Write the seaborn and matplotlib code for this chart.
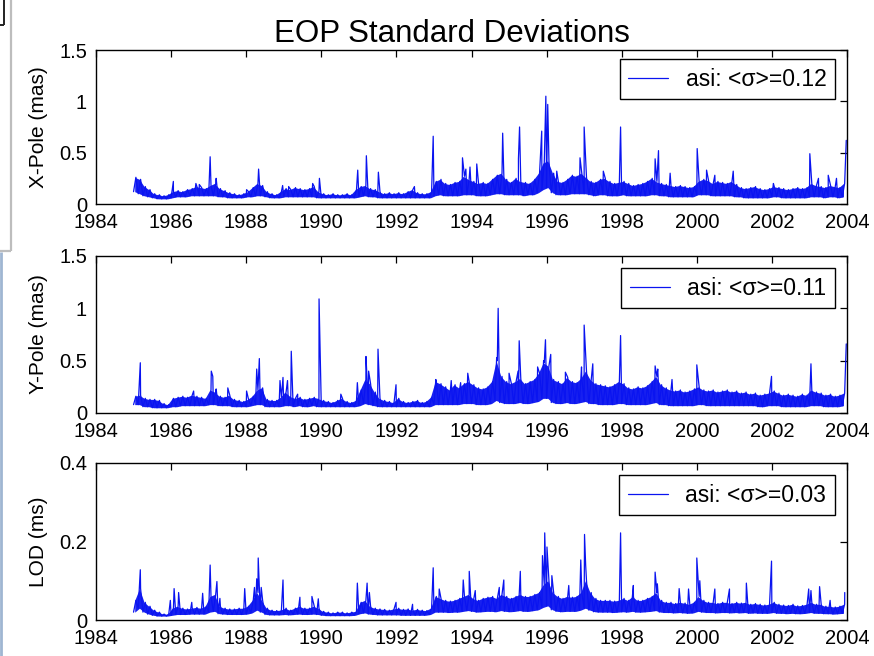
import numpy as np
import pandas as pd
import matplotlib
matplotlib.use("Agg")
import matplotlib.pyplot as plt
import seaborn as sns
from matplotlib.lines import Line2D

# ---------------------------------------------------------------------------
# Formal standard deviations of the Earth Orientation Parameters (asi solution)
# Band values are given on a 1/8-year grid starting 1985.0 (8 per row = 1 year):
#   *_lo : lower edge of the daily scatter, *_hi : upper edge of the scatter.
# Isolated outliers are listed separately as (epoch, sigma).
# ---------------------------------------------------------------------------
YEAR0 = 1985.0
STEP = 0.125

xpole_hi = [
    0.26, 0.24, 0.17, 0.14, 0.10, 0.09, 0.08, 0.09,   # 1985
    0.12, 0.13, 0.12, 0.14, 0.15, 0.17, 0.16, 0.15,   # 1986
    0.18, 0.20, 0.15, 0.13, 0.11, 0.10, 0.09, 0.10,   # 1987
    0.12, 0.16, 0.20, 0.18, 0.12, 0.10, 0.09, 0.12,   # 1988
    0.15, 0.14, 0.16, 0.15, 0.14, 0.15, 0.17, 0.12,   # 1989
    0.10, 0.09, 0.10, 0.09, 0.09, 0.10, 0.09, 0.14,   # 1990
    0.17, 0.18, 0.15, 0.14, 0.12, 0.10, 0.11, 0.10,   # 1991
    0.11, 0.10, 0.12, 0.14, 0.11, 0.10, 0.10, 0.12,   # 1992
    0.22, 0.24, 0.20, 0.19, 0.21, 0.22, 0.27, 0.24,   # 1993
    0.22, 0.20, 0.21, 0.20, 0.24, 0.28, 0.30, 0.24,   # 1994
    0.21, 0.25, 0.22, 0.21, 0.20, 0.24, 0.30, 0.40,   # 1995
    0.42, 0.30, 0.22, 0.21, 0.24, 0.28, 0.27, 0.30,   # 1996
    0.26, 0.22, 0.21, 0.24, 0.25, 0.22, 0.20, 0.21,   # 1997
    0.22, 0.20, 0.18, 0.19, 0.20, 0.22, 0.25, 0.22,   # 1998
    0.20, 0.19, 0.18, 0.17, 0.18, 0.17, 0.16, 0.17,   # 1999
    0.22, 0.24, 0.23, 0.20, 0.22, 0.21, 0.20, 0.22,   # 2000
    0.19, 0.16, 0.15, 0.16, 0.17, 0.15, 0.14, 0.15,   # 2001
    0.17, 0.16, 0.15, 0.14, 0.15, 0.16, 0.15, 0.16,   # 2002
    0.20, 0.18, 0.17, 0.16, 0.18, 0.17, 0.16, 0.20,   # 2003
]
xpole_lo = [
    0.12, 0.10, 0.08, 0.07, 0.06, 0.05, 0.05, 0.05,
    0.06, 0.07, 0.07, 0.07, 0.08, 0.08, 0.08, 0.08,
    0.08, 0.08, 0.07, 0.07, 0.06, 0.06, 0.06, 0.06,
    0.07, 0.07, 0.08, 0.08, 0.07, 0.06, 0.06, 0.06,
    0.07, 0.07, 0.07, 0.07, 0.07, 0.07, 0.07, 0.06,
    0.06, 0.06, 0.06, 0.06, 0.06, 0.06, 0.06, 0.06,
    0.07, 0.08, 0.07, 0.07, 0.06, 0.06, 0.06, 0.06,
    0.06, 0.06, 0.06, 0.06, 0.06, 0.06, 0.06, 0.06,
    0.08, 0.09, 0.08, 0.08, 0.08, 0.08, 0.09, 0.09,
    0.09, 0.08, 0.08, 0.08, 0.09, 0.10, 0.10, 0.09,
    0.09, 0.09, 0.09, 0.08, 0.09, 0.09, 0.11, 0.14,
    0.16, 0.11, 0.09, 0.09, 0.09, 0.10, 0.10, 0.10,
    0.10, 0.09, 0.08, 0.09, 0.09, 0.08, 0.08, 0.08,
    0.09, 0.08, 0.08, 0.08, 0.08, 0.08, 0.09, 0.09,
    0.08, 0.08, 0.07, 0.07, 0.07, 0.07, 0.07, 0.07,
    0.09, 0.09, 0.09, 0.08, 0.08, 0.08, 0.08, 0.08,
    0.07, 0.07, 0.06, 0.06, 0.06, 0.06, 0.06, 0.06,
    0.07, 0.07, 0.06, 0.06, 0.06, 0.06, 0.06, 0.06,
    0.07, 0.07, 0.07, 0.06, 0.07, 0.07, 0.06, 0.07,
]
xpole_spikes = [
    (1986.06, 0.22), (1986.66, 0.20), (1986.75, 0.19), (1987.04, 0.46),
    (1987.20, 0.25), (1988.01, 0.14), (1988.33, 0.34), (1988.97, 0.18),
    (1989.13, 0.17), (1989.77, 0.20), (1989.95, 0.25), (1990.97, 0.33),
    (1991.20, 0.47), (1991.52, 0.31), (1992.48, 0.17), (1992.98, 0.66),
    (1993.76, 0.45), (1993.85, 0.34), (1993.96, 0.36), (1994.14, 0.39),
    (1994.83, 0.69), (1995.25, 0.44), (1995.28, 0.75), (1995.87, 0.71),
    (1995.98, 1.05), (1996.03, 0.97), (1996.27, 0.32), (1996.89, 0.45),
    (1997.00, 0.75), (1997.51, 0.32), (1997.97, 0.75), (1998.89, 0.44),
    (1998.98, 0.52), (1999.29, 0.30), (2000.01, 0.54), (2000.26, 0.33),
    (2000.48, 0.28), (2000.97, 0.32), (2002.04, 0.20), (2003.01, 0.49),
    (2003.24, 0.25), (2003.50, 0.28), (2003.72, 0.25), (2003.98, 0.62),
]

ypole_hi = [
    0.16, 0.17, 0.14, 0.13, 0.13, 0.12, 0.09, 0.08,   # 1985
    0.14, 0.15, 0.16, 0.15, 0.17, 0.16, 0.15, 0.14,   # 1986
    0.22, 0.20, 0.16, 0.15, 0.17, 0.13, 0.12, 0.11,   # 1987
    0.13, 0.16, 0.22, 0.24, 0.13, 0.12, 0.12, 0.15,   # 1988
    0.20, 0.16, 0.14, 0.15, 0.13, 0.14, 0.15, 0.14,   # 1989
    0.12, 0.11, 0.10, 0.12, 0.14, 0.11, 0.10, 0.12,   # 1990
    0.22, 0.32, 0.28, 0.20, 0.14, 0.12, 0.11, 0.10,   # 1991
    0.14, 0.11, 0.10, 0.11, 0.12, 0.10, 0.11, 0.15,   # 1992
    0.30, 0.28, 0.25, 0.22, 0.27, 0.24, 0.28, 0.30,   # 1993
    0.27, 0.24, 0.23, 0.25, 0.30, 0.50, 0.35, 0.30,   # 1994
    0.28, 0.30, 0.33, 0.28, 0.30, 0.32, 0.38, 0.48,   # 1995
    0.45, 0.32, 0.30, 0.28, 0.34, 0.30, 0.29, 0.33,   # 1996
    0.40, 0.32, 0.28, 0.27, 0.26, 0.25, 0.27, 0.30,   # 1997
    0.28, 0.24, 0.23, 0.25, 0.24, 0.26, 0.30, 0.35,   # 1998
    0.27, 0.24, 0.22, 0.21, 0.22, 0.20, 0.21, 0.23,   # 1999
    0.25, 0.22, 0.21, 0.22, 0.20, 0.21, 0.22, 0.20,   # 2000
    0.21, 0.19, 0.20, 0.18, 0.19, 0.17, 0.18, 0.19,   # 2001
    0.21, 0.19, 0.17, 0.18, 0.17, 0.16, 0.18, 0.17,   # 2002
    0.22, 0.20, 0.19, 0.17, 0.18, 0.16, 0.17, 0.19,   # 2003
]
ypole_lo = [
    0.08, 0.08, 0.06, 0.06, 0.05, 0.05, 0.05, 0.05,
    0.06, 0.06, 0.07, 0.07, 0.07, 0.07, 0.07, 0.07,
    0.08, 0.08, 0.07, 0.07, 0.07, 0.06, 0.06, 0.06,
    0.06, 0.07, 0.08, 0.08, 0.06, 0.06, 0.06, 0.06,
    0.07, 0.07, 0.06, 0.07, 0.06, 0.06, 0.07, 0.06,
    0.06, 0.06, 0.06, 0.06, 0.06, 0.06, 0.06, 0.06,
    0.07, 0.09, 0.08, 0.07, 0.06, 0.06, 0.06, 0.06,
    0.06, 0.06, 0.06, 0.06, 0.06, 0.06, 0.06, 0.06,
    0.08, 0.08, 0.08, 0.08, 0.08, 0.08, 0.09, 0.09,
    0.09, 0.08, 0.08, 0.08, 0.09, 0.12, 0.10, 0.09,
    0.09, 0.09, 0.10, 0.09, 0.09, 0.10, 0.11, 0.14,
    0.14, 0.10, 0.09, 0.09, 0.10, 0.09, 0.09, 0.10,
    0.11, 0.09, 0.09, 0.08, 0.08, 0.08, 0.08, 0.09,
    0.09, 0.08, 0.08, 0.08, 0.08, 0.08, 0.09, 0.10,
    0.08, 0.08, 0.07, 0.07, 0.07, 0.07, 0.07, 0.07,
    0.08, 0.08, 0.07, 0.07, 0.07, 0.07, 0.07, 0.07,
    0.07, 0.07, 0.07, 0.07, 0.07, 0.06, 0.06, 0.07,
    0.07, 0.07, 0.06, 0.06, 0.06, 0.06, 0.06, 0.06,
    0.07, 0.07, 0.07, 0.06, 0.06, 0.06, 0.06, 0.07,
]
ypole_spikes = [
    (1985.18, 0.48), (1986.60, 0.21), (1987.07, 0.40), (1987.11, 0.35),
    (1987.20, 0.23), (1987.51, 0.24), (1988.01, 0.21), (1988.28, 0.42),
    (1988.35, 0.52), (1988.90, 0.31), (1988.98, 0.34), (1989.10, 0.31),
    (1989.20, 0.59), (1989.37, 0.18), (1989.94, 1.09), (1990.52, 0.18),
    (1990.96, 0.29), (1991.19, 0.54), (1991.26, 0.40), (1991.51, 0.61),
    (1991.99, 0.27), (1993.05, 0.32), (1993.46, 0.31), (1993.71, 0.29),
    (1993.90, 0.38), (1994.67, 0.53), (1994.71, 1.00), (1995.00, 0.38),
    (1995.24, 0.40), (1995.27, 0.69), (1995.76, 0.44), (1995.92, 0.50),
    (1995.97, 0.70), (1996.11, 0.56), (1996.50, 0.39), (1996.93, 0.44),
    (1997.00, 0.84), (1997.23, 0.47), (1997.97, 0.74), (1998.89, 0.45),
    (1998.96, 0.42), (1999.34, 0.32), (2000.00, 0.46), (2001.99, 0.35),
    (2003.04, 0.47), (2003.98, 0.66),
]

lod_hi = [
    0.050, 0.080, 0.045, 0.035, 0.025, 0.020, 0.015, 0.015,   # 1985
    0.030, 0.035, 0.030, 0.028, 0.030, 0.032, 0.030, 0.035,   # 1986
    0.060, 0.065, 0.035, 0.030, 0.028, 0.028, 0.030, 0.030,   # 1987
    0.035, 0.050, 0.070, 0.050, 0.030, 0.025, 0.024, 0.025,   # 1988
    0.030, 0.025, 0.030, 0.035, 0.030, 0.030, 0.035, 0.030,   # 1989
    0.022, 0.020, 0.018, 0.020, 0.020, 0.018, 0.020, 0.022,   # 1990
    0.045, 0.050, 0.035, 0.030, 0.028, 0.027, 0.025, 0.028,   # 1991
    0.030, 0.027, 0.028, 0.025, 0.027, 0.025, 0.024, 0.030,   # 1992
    0.060, 0.055, 0.050, 0.048, 0.050, 0.055, 0.060, 0.065,   # 1993
    0.055, 0.050, 0.055, 0.058, 0.060, 0.055, 0.065, 0.060,   # 1994
    0.055, 0.060, 0.065, 0.060, 0.060, 0.065, 0.070, 0.090,   # 1995
    0.100, 0.070, 0.060, 0.055, 0.060, 0.058, 0.060, 0.070,   # 1996
    0.100, 0.070, 0.055, 0.050, 0.050, 0.050, 0.048, 0.050,   # 1997
    0.055, 0.050, 0.060, 0.050, 0.050, 0.055, 0.060, 0.070,   # 1998
    0.050, 0.045, 0.045, 0.042, 0.045, 0.043, 0.040, 0.045,   # 1999
    0.060, 0.050, 0.045, 0.045, 0.042, 0.045, 0.045, 0.042,   # 2000
    0.045, 0.043, 0.045, 0.040, 0.042, 0.040, 0.038, 0.040,   # 2001
    0.045, 0.040, 0.038, 0.037, 0.040, 0.036, 0.037, 0.040,   # 2002
    0.045, 0.040, 0.040, 0.035, 0.035, 0.033, 0.035, 0.040,   # 2003
]
lod_lo = [
    0.020, 0.030, 0.020, 0.015, 0.012, 0.010, 0.010, 0.010,
    0.012, 0.014, 0.014, 0.014, 0.015, 0.015, 0.015, 0.015,
    0.020, 0.022, 0.016, 0.015, 0.014, 0.014, 0.014, 0.014,
    0.015, 0.018, 0.025, 0.020, 0.014, 0.013, 0.013, 0.013,
    0.014, 0.013, 0.014, 0.015, 0.014, 0.014, 0.015, 0.014,
    0.012, 0.011, 0.011, 0.011, 0.011, 0.011, 0.011, 0.012,
    0.016, 0.018, 0.015, 0.014, 0.013, 0.013, 0.013, 0.013,
    0.013, 0.012, 0.012, 0.012, 0.012, 0.012, 0.012, 0.014,
    0.020, 0.020, 0.020, 0.019, 0.020, 0.020, 0.022, 0.024,
    0.022, 0.020, 0.021, 0.022, 0.022, 0.021, 0.024, 0.022,
    0.021, 0.022, 0.024, 0.022, 0.022, 0.024, 0.026, 0.032,
    0.036, 0.026, 0.022, 0.021, 0.022, 0.022, 0.022, 0.025,
    0.030, 0.025, 0.021, 0.020, 0.020, 0.020, 0.019, 0.020,
    0.021, 0.020, 0.022, 0.020, 0.020, 0.021, 0.022, 0.024,
    0.020, 0.019, 0.019, 0.018, 0.019, 0.018, 0.017, 0.018,
    0.022, 0.020, 0.019, 0.019, 0.018, 0.019, 0.019, 0.018,
    0.019, 0.018, 0.019, 0.017, 0.018, 0.017, 0.017, 0.017,
    0.019, 0.017, 0.017, 0.016, 0.017, 0.016, 0.016, 0.017,
    0.019, 0.017, 0.017, 0.016, 0.016, 0.015, 0.016, 0.017,
]
lod_spikes = [
    (1985.18, 0.128), (1985.98, 0.050), (1986.08, 0.080), (1986.20, 0.070),
    (1986.55, 0.045), (1986.84, 0.068), (1987.04, 0.140), (1987.22, 0.098),
    (1987.30, 0.055), (1987.96, 0.080), (1988.22, 0.083), (1988.28, 0.105),
    (1988.32, 0.158), (1988.40, 0.083), (1988.98, 0.102), (1989.43, 0.058),
    (1989.75, 0.060), (1989.92, 0.054), (1990.96, 0.094), (1991.22, 0.094),
    (1991.28, 0.070), (1991.99, 0.045), (1992.43, 0.040), (1992.98, 0.133),
    (1993.14, 0.079), (1993.78, 0.102), (1993.94, 0.124), (1994.10, 0.075),
    (1994.74, 0.083), (1994.86, 0.102), (1995.30, 0.124), (1995.89, 0.164),
    (1995.95, 0.222), (1996.01, 0.186), (1996.14, 0.113), (1996.59, 0.088),
    (1996.91, 0.153), (1997.01, 0.218), (1997.04, 0.140), (1997.97, 0.222),
    (1998.31, 0.088), (1998.89, 0.122), (1998.95, 0.092), (1999.53, 0.080),
    (1999.78, 0.079), (2000.00, 0.158), (2000.08, 0.100), (2000.48, 0.079),
    (2000.87, 0.079), (2001.32, 0.094), (2001.99, 0.150), (2002.98, 0.079),
    (2003.04, 0.075), (2003.27, 0.085), (2003.55, 0.050), (2003.94, 0.070),
]

series_names = ["X-Pole (mas)", "Y-Pole (mas)", "LOD (ms)"]
mean_sigma = [0.12, 0.11, 0.03]
solution = "asi"
title = "EOP Standard Deviations"

year_ticks = list(range(1984, 2005, 2))
year_labels = [str(y) for y in year_ticks]
pole_ticks = [0, 0.5, 1, 1.5]
pole_labels = ["0", "0.5", "1", "1.5"]
lod_ticks = [0, 0.2, 0.4]
lod_labels = ["0", "0.2", "0.4"]

bands = [(xpole_lo, xpole_hi), (ypole_lo, ypole_hi), (lod_lo, lod_hi)]
spike_sets = [xpole_spikes, ypole_spikes, lod_spikes]


def build_trace(lo, hi, spikes):
    """Zig-zag through the scatter band (lo at the knot, hi half a step later)
    and insert the isolated outliers in time order."""
    lo = np.asarray(lo, dtype=float)
    hi = np.asarray(hi, dtype=float)
    knots = YEAR0 + np.arange(len(lo)) * STEP
    sp_t = np.array([s[0] for s in spikes])
    sp_v = np.array([s[1] for s in spikes])
    t = np.concatenate([knots, knots + STEP / 2, sp_t])
    v = np.concatenate([lo, hi, sp_v])
    order = np.argsort(t, kind="stable")
    return pd.DataFrame({"year": t[order], "sigma": v[order]})


traces = [build_trace(lo, hi, sp) for (lo, hi), sp in zip(bands, spike_sets)]

# ---------------------------------------------------------------------------
sns.set_theme(style="white")
plt.rcParams["font.family"] = ["Liberation Sans", "DejaVu Sans"]
plt.rcParams["axes.edgecolor"] = "black"
plt.rcParams["text.color"] = "black"
plt.rcParams["axes.labelcolor"] = "black"
plt.rcParams["xtick.color"] = "black"
plt.rcParams["ytick.color"] = "black"

W, H = 874, 656
fig = plt.figure(figsize=(W / 100, H / 100), dpi=100)
fig.patch.set_facecolor("white")

LINE = "#0a14f0"
left_px, right_px = 96, 847
panels_px = [(50, 204), (256, 413), (463, 620)]   # (top, bottom) in pixels
legend_top_px = [59, 268, 475]
legend_right_px = 835
ylims = [(0, 1.5), (0, 1.5), (0, 0.4)]
yticks = [(pole_ticks, pole_labels), (pole_ticks, pole_labels), (lod_ticks, lod_labels)]

for i, (top, bot) in enumerate(panels_px):
    ax = fig.add_axes([left_px / W, 1 - bot / H,
                       (right_px - left_px) / W, (bot - top) / H])
    lo, hi = bands[i]
    knots = YEAR0 + np.arange(len(lo)) * STEP
    # dense daily scatter band
    ax.fill_between(knots + STEP / 4, lo, hi, color=LINE, lw=0, alpha=0.95)
    sns.lineplot(data=traces[i], x="year", y="sigma", ax=ax, color=LINE,
                 lw=0.9, estimator=None, sort=False,
                 label=f"{solution}: <\u03c3>={mean_sigma[i]:.2f}")
    ax.set_xlim(1984, 2004)
    ax.set_ylim(*ylims[i])
    ax.set_xticks(year_ticks)
    ax.set_xticklabels(year_labels)
    ax.set_yticks(yticks[i][0])
    ax.set_yticklabels(yticks[i][1])
    ax.set_xlabel("")
    ax.set_ylabel(series_names[i], fontsize=15)
    ax.yaxis.set_label_coords(-0.064, 0.5)
    ax.tick_params(direction="in", top=True, right=True, length=5, width=0.9,
                   labelsize=14.5)
    ax.tick_params(axis="x", pad=6.5)
    ax.tick_params(axis="y", pad=6.5)
    for sp in ax.spines.values():
        sp.set_visible(True)
        sp.set_color("black")
        sp.set_linewidth(1.0)
    h_px = bot - top
    w_px = right_px - left_px
    leg = ax.legend(loc="upper right",
                    bbox_to_anchor=(1 - (right_px - legend_right_px) / w_px,
                                    1 - (legend_top_px[i] - top) / h_px),
                    borderaxespad=0, frameon=True, fancybox=False,
                    edgecolor="black", framealpha=1, fontsize=16.5,
                    handlelength=1.75, handletextpad=0.75, borderpad=0.38)
    leg.get_frame().set_linewidth(1.0)

fig.text(452 / W, 1 - 42 / H, title, ha="center", va="baseline", fontsize=22.5)


# window frame remnants along the left border
def px(x, y):
    return x / W, 1 - y / H


def frame_line(p0, p1, color, lw):
    (x0, y0), (x1, y1) = px(*p0), px(*p1)
    fig.add_artist(Line2D([x0, x1], [y0, y1], transform=fig.transFigure,
                          color=color, lw=lw, solid_capstyle="butt"))


frame_line((3.5, 0), (3.5, 25), "#222222", 1.4)
frame_line((0, 25), (3.5, 25), "#222222", 1.4)
frame_line((11, 0), (11, 251), "#bdbdbd", 1.6)
frame_line((0, 251), (11, 251), "#bdbdbd", 1.6)
frame_line((1.2, 252), (1.2, 656), "#9fb6d2", 2.0)

fig.savefig("out.png", dpi=100, facecolor="white")
